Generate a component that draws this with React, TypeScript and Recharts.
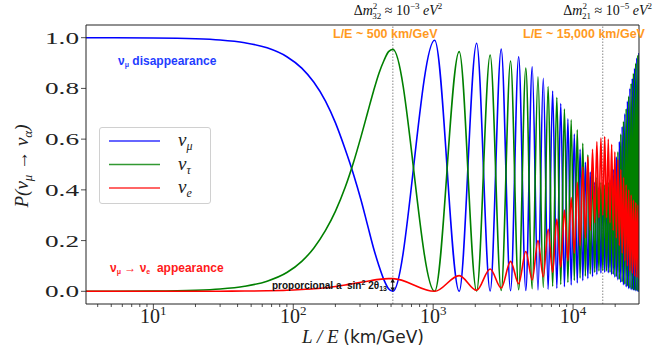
import React from "react";
import { LineChart, Line, XAxis, YAxis, ReferenceLine, Legend } from "recharts";

const W = 654;
const H = 354;

// L/E (km/GeV) where values were read; beyond 500 these are the turning points of the oscillation
const le = [
  3.3, 10, 20, 30, 45, 65, 90, 115, 140, 170, 200, 235, 270, 305, 340, 375, 410, 445, 480,
  515, 1025, 1535, 2045, 2555, 3065, 3575, 4085, 4595, 5105, 5615, 6125, 6635, 7145, 7655, 8165,
  8675, 9185, 9695, 10205, 10715, 11225, 11735, 12245, 12755, 13265, 13775, 14285, 14795, 15305,
  15815, 16325, 16835, 17345, 17855, 18365, 18875, 19385, 19895, 20405, 20915, 21425, 21935, 22445,
  22955, 23465, 23975, 24485, 24995, 25505, 26015, 26525, 27035, 27545, 28055, 28565, 29075, 29585,
];

const numu = [
  1.0, 0.999, 0.996, 0.991, 0.98, 0.96, 0.925, 0.88, 0.825, 0.75, 0.665, 0.56, 0.46, 0.36, 0.26, 0.17, 0.1, 0.045, 0.01,
  0.0, 0.99, 0.0, 0.978, 0.001, 0.955, 0.002, 0.925, 0.003, 0.885, 0.005, 0.84, 0.008, 0.79, 0.012, 0.74,
  0.018, 0.68, 0.025, 0.62, 0.033, 0.56, 0.042, 0.51, 0.05, 0.47, 0.058, 0.43, 0.066, 0.41,
  0.072, 0.4, 0.075, 0.41, 0.073, 0.44, 0.066, 0.48, 0.056, 0.53, 0.045, 0.59, 0.035, 0.65,
  0.025, 0.7, 0.017, 0.75, 0.01, 0.8, 0.006, 0.84, 0.003, 0.88, 0.001, 0.92, 0.0, 0.94,
];

const nutau = [
  0.0, 0.001, 0.004, 0.009, 0.02, 0.04, 0.074, 0.118, 0.17, 0.24, 0.315, 0.41, 0.51, 0.61, 0.705, 0.79, 0.86, 0.91, 0.945,
  0.954, 0.0, 0.945, 0.001, 0.932, 0.003, 0.908, 0.006, 0.88, 0.01, 0.846, 0.015, 0.807, 0.02, 0.764, 0.027,
  0.719, 0.035, 0.676, 0.043, 0.637, 0.052, 0.584, 0.06, 0.538, 0.068, 0.49, 0.075, 0.45, 0.08,
  0.43, 0.082, 0.42, 0.08, 0.43, 0.075, 0.45, 0.067, 0.49, 0.057, 0.55, 0.047, 0.62, 0.037,
  0.67, 0.028, 0.72, 0.02, 0.77, 0.013, 0.82, 0.008, 0.86, 0.004, 0.9, 0.002, 0.93, 0.0,
];

const nue = [
  0, 0, 0.0002, 0.0005, 0.001, 0.002, 0.004, 0.007, 0.01, 0.014, 0.019, 0.025, 0.031, 0.036, 0.04, 0.044, 0.047, 0.049, 0.05,
  0.05, 0.0, 0.062, 0.004, 0.088, 0.013, 0.118, 0.03, 0.157, 0.045, 0.2, 0.057, 0.245, 0.075, 0.285, 0.095,
  0.32, 0.12, 0.37, 0.15, 0.43, 0.18, 0.49, 0.21, 0.53, 0.24, 0.56, 0.27, 0.59, 0.29,
  0.605, 0.3, 0.61, 0.29, 0.6, 0.27, 0.58, 0.24, 0.55, 0.21, 0.52, 0.18, 0.48, 0.15,
  0.45, 0.12, 0.42, 0.1, 0.4, 0.08, 0.38, 0.07, 0.36, 0.06, 0.35, 0.055, 0.34, 0.05,
];

const xTicks = [4, 5, 6, 7, 8, 9, 10, 20, 30, 40, 50, 60, 70, 80, 90, 100, 200, 300, 400, 500, 600, 700, 800, 900,
  1000, 2000, 3000, 4000, 5000, 6000, 7000, 8000, 9000, 10000, 20000];
const yTicks = [0, 0.2, 0.4, 0.6, 0.8, 1.0];
const markers = [515, 16300];

const series = [
  { key: "numu", sub: "μ", color: "#0000ff" },
  { key: "nutau", sub: "τ", color: "#008000" },
  { key: "nue", sub: "e", color: "#ff0000" },
];

const data = le.map((x, i) => ({ le: x, numu: numu[i], nutau: nutau[i], nue: nue[i] }));

const serif = "'Liberation Serif', serif";
const sans = "'Liberation Sans', Arial, sans-serif";

const XTick = (props: any) => {
  const { x, y, payload } = props;
  const lg = Math.log10(payload.value);
  const major = Math.abs(lg - Math.round(lg)) < 1e-6;
  return (
    <g>
      <line x1={x} x2={x} y1={y} y2={y + (major ? 5 : 3)} stroke="#222" strokeWidth={0.8} />
      {major && (
        <text x={x} y={y + 19} textAnchor="middle" fontFamily={serif} fontSize={20} fill="#222">
          10<tspan dy={-8} fontSize={13}>{Math.round(lg)}</tspan>
        </text>
      )}
    </g>
  );
};

const YTick = (props: any) => {
  const { x, y, payload } = props;
  return (
    <g>
      <line x1={x - 5} x2={x} y1={y} y2={y} stroke="#222" strokeWidth={0.8} />
      <text x={x - 7} y={y + 6} textAnchor="end" fontFamily={serif} fontSize={16} fill="#222"
        textLength={34} lengthAdjust="spacingAndGlyphs">
        {payload.value.toFixed(1)}
      </text>
    </g>
  );
};

const LegendBox = () => (
  <div style={{ width: 110, height: 75, border: "1px solid #d0d0d0", borderRadius: 3, background: "rgba(255,255,255,0.8)" }}>
    <svg width={110} height={75}>
      {series.map((s, i) => (
        <g key={s.key}>
          <line x1={9} x2={60} y1={13 + i * 23.5} y2={13 + i * 23.5} stroke={s.color} strokeWidth={1.5} opacity={0.8} />
          <text x={78} y={18 + i * 23.5} fontFamily={serif} fontStyle="italic" fontSize={19} fill="#222">
            ν<tspan dy={4} fontSize={12}>{s.sub}</tspan>
          </text>
        </g>
      ))}
    </svg>
  </div>
);

export default function App() {
  return (
    <div style={{ position: "absolute", left: 0, top: 0, width: W, height: H, background: "#fff" }}>
      <LineChart width={W} height={H} data={data} margin={{ top: 0, right: 0, bottom: 0, left: 0 }}>
        <XAxis dataKey="le" type="number" scale="log" domain={[3.3, 29600]} allowDataOverflow ticks={xTicks}
          interval={0} tick={<XTick />} tickLine={false} tickSize={0} tickMargin={0} height={50}
          axisLine={{ stroke: "#222" }} />
        <XAxis xAxisId="top" orientation="top" type="number" scale="log" domain={[3.3, 29600]} allowDataOverflow
          tick={false} tickLine={false} height={25} axisLine={{ stroke: "#222" }} />
        <YAxis type="number" domain={[-0.05, 1.05]} allowDataOverflow ticks={yTicks} interval={0} tick={<YTick />}
          tickLine={false} tickSize={0} tickMargin={0} width={86} axisLine={{ stroke: "#222" }} />
        <YAxis yAxisId="right" orientation="right" type="number" domain={[-0.05, 1.05]} tick={false}
          tickLine={false} width={15} axisLine={{ stroke: "#222" }} />
        {markers.map((m) => (
          <ReferenceLine key={m} x={m} stroke="#888" strokeDasharray="1.5 1.5" strokeWidth={1} />
        ))}
        {series.map((s) => (
          <Line key={s.key} dataKey={s.key} type="monotone" stroke={s.color} strokeWidth={1.6} dot={false}
            isAnimationActive={false} />
        ))}
        <Legend layout="vertical" align="center" verticalAlign="middle" content={<LegendBox />}
          wrapperStyle={{ left: 99, top: 127, width: 112, height: 77 }} />
      </LineChart>

      <svg width={W} height={H} style={{ position: "absolute", left: 0, top: 0, pointerEvents: "none" }}>
        {/* axis titles */}
        <text transform="translate(28,166) rotate(-90)" textAnchor="middle" fontFamily={serif} fontStyle="italic" fontSize={19} fill="#222">
          P(ν<tspan dy={4} fontSize={13}>μ</tspan><tspan dy={-4}> → ν</tspan><tspan dy={4} fontSize={13}>α</tspan><tspan dy={-4}>)</tspan>
        </text>
        <text x={363} y={343} textAnchor="middle" fontSize={19} fill="#222" style={{ whiteSpace: "pre" }}>
          <tspan fontFamily={serif} fontStyle="italic">L / E </tspan>
          <tspan fontFamily="'DejaVu Sans', sans-serif" fontSize={17}>(km/GeV)</tspan>
        </text>

        {/* mass splittings above the frame */}
        <text x={398} y={15} textAnchor="middle" fontFamily={serif} fontSize={14} fill="#111" style={{ whiteSpace: "pre" }}>
          Δ<tspan fontStyle="italic">m</tspan><tspan dy={-6} fontSize={9}>2</tspan><tspan dx={-5} dy={10} fontSize={9}>32</tspan>
          <tspan dy={-4}> ≈ 10</tspan><tspan dy={-6} fontSize={9}>−3</tspan><tspan dy={6} fontStyle="italic"> eV</tspan>
          <tspan dy={-6} fontSize={9}>2</tspan>
        </text>
        <text x={652} y={15} textAnchor="end" fontFamily={serif} fontSize={14} fill="#111" style={{ whiteSpace: "pre" }}>
          Δ<tspan fontStyle="italic">m</tspan><tspan dy={-6} fontSize={9}>2</tspan><tspan dx={-5} dy={10} fontSize={9}>21</tspan>
          <tspan dy={-4}> ≈ 10</tspan><tspan dy={-6} fontSize={9}>−5</tspan><tspan dy={6} fontStyle="italic"> eV</tspan>
          <tspan dy={-6} fontSize={9}>2</tspan>
        </text>

        <text x={333} y={38} fontFamily={sans} fontWeight="bold" fontSize={12.5} fill="#ff9a1f">L/E ~ 500 km/GeV</text>
        <text x={523} y={38} fontFamily={sans} fontWeight="bold" fontSize={12.5} fill="#ff9a1f">L/E ~ 15,000 km/GeV</text>

        <text x={118} y={65} fontFamily={sans} fontWeight="bold" fontSize={12} fill="#1f3dff">
          ν<tspan dy={2} fontSize={7}>μ</tspan><tspan dy={-2}> disappearance</tspan>
        </text>
        <text x={110} y={272} fontFamily={sans} fontWeight="bold" fontSize={12} fill="#ff1a1a" style={{ whiteSpace: "pre" }}>
          ν<tspan dy={2} fontSize={7}>μ</tspan><tspan dy={-2}> → ν</tspan><tspan dy={2} fontSize={7}>e</tspan>
          <tspan dy={-2}>  appearance</tspan>
        </text>

        <text x={272} y={289} fontFamily={sans} fontWeight="bold" fontSize={10} fill="#111" style={{ whiteSpace: "pre" }}>
          proporcional a  sin<tspan dy={-4} fontSize={7}>2</tspan><tspan dy={4}> 2θ</tspan><tspan dy={2} fontSize={7}>13</tspan>
        </text>
        <line x1={392.7} x2={392.7} y1={281} y2={289.5} stroke="#111" strokeWidth={1} />
        <polygon points="392.7,278.5 390.5,282.5 394.9,282.5" fill="#111" />
        <polygon points="392.7,291.5 390.5,287.5 394.9,287.5" fill="#111" />
      </svg>
    </div>
  );
}
